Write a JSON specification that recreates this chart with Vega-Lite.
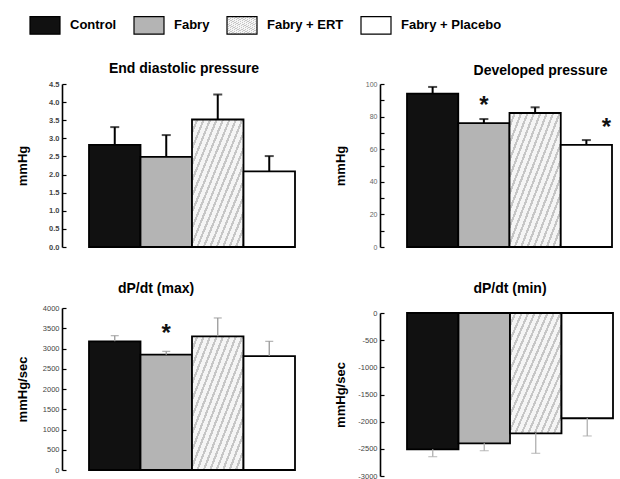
{
  "$schema": "https://vega.github.io/schema/vega-lite/v6.json",
  "background": "white",
  "padding": {"left": 16, "top": 9, "right": 2, "bottom": 0},
  "datasets": {
    "bars": [
      {"panel": "edp", "group": "Control", "mean": 2.82, "hi": 3.31, "star": null},
      {"panel": "edp", "group": "Fabry", "mean": 2.49, "hi": 3.09, "star": null},
      {"panel": "edp", "group": "Fabry + ERT", "mean": 3.52, "hi": 4.21, "star": null},
      {"panel": "edp", "group": "Fabry + Placebo", "mean": 2.09, "hi": 2.51, "star": null},
      {"panel": "dp", "group": "Control", "mean": 94.1, "hi": 98.2, "star": null},
      {"panel": "dp", "group": "Fabry", "mean": 76.0, "hi": 78.5, "star": 90.4},
      {"panel": "dp", "group": "Fabry + ERT", "mean": 82.2, "hi": 85.7, "star": null},
      {"panel": "dp", "group": "Fabry + Placebo", "mean": 62.7, "hi": 65.6, "star": 76.4},
      {"panel": "dpmax", "group": "Control", "mean": 3176, "hi": 3317, "star": null},
      {"panel": "dpmax", "group": "Fabry", "mean": 2847, "hi": 2929, "star": 3507},
      {"panel": "dpmax", "group": "Fabry + ERT", "mean": 3300, "hi": 3754, "star": null},
      {"panel": "dpmax", "group": "Fabry + Placebo", "mean": 2814, "hi": 3176, "star": null},
      {"panel": "dpmin", "group": "Control", "mean": -2509, "hi": -2644, "star": null},
      {"panel": "dpmin", "group": "Fabry", "mean": -2398, "hi": -2534, "star": null},
      {"panel": "dpmin", "group": "Fabry + ERT", "mean": -2214, "hi": -2583, "star": null},
      {"panel": "dpmin", "group": "Fabry + Placebo", "mean": -1937, "hi": -2263, "star": null}
    ]
  },
  "columns": 2,
  "spacing": {"row": 31, "column": 38},
  "concat": [
    {
      "width": 206, "height": 163,
      "title": {"text": "End diastolic pressure", "dx": -8, "offset": 4},
      "data": {"name": "bars"},
      "transform": [{"filter": "datum.panel === 'edp'"}],
      "encoding": {"x": {"field": "group", "type": "nominal", "sort": ["Control", "Fabry", "Fabry + ERT", "Fabry + Placebo"], "axis": null, "scale": {"paddingInner": 0, "paddingOuter": 0}}},
      "layer": [
        {
          "mark": {"type": "bar", "stroke": "black", "strokeWidth": 1.8},
          "encoding": {
            "y": {"field": "mean", "type": "quantitative", "scale": {"domain": [0, 4.5], "nice": false}, "axis": {"title": "mmHg", "values": [0, 0.5, 1, 1.5, 2, 2.5, 3, 3.5, 4, 4.5], "tickCount": 20, "labelOverlap": false, "format": ".1f", "labelFontWeight": "bold"}},
            "fill": {"field": "group", "type": "nominal", "scale": {"domain": ["Control", "Fabry", "Fabry + ERT", "Fabry + Placebo"], "range": ["#111111", "#b4b4b4", {"expr": "{gradient:'linear',x1:0,y1:0,x2:1,y2:1,stops:[{offset:0,color:'#f5f5f5'},{offset:0.0406,color:'#f5f5f5'},{offset:0.0406,color:'#c6c6c6'},{offset:0.0625,color:'#c6c6c6'},{offset:0.0625,color:'#f5f5f5'},{offset:0.1031,color:'#f5f5f5'},{offset:0.1031,color:'#c6c6c6'},{offset:0.125,color:'#c6c6c6'},{offset:0.125,color:'#f5f5f5'},{offset:0.1656,color:'#f5f5f5'},{offset:0.1656,color:'#c6c6c6'},{offset:0.1875,color:'#c6c6c6'},{offset:0.1875,color:'#f5f5f5'},{offset:0.2281,color:'#f5f5f5'},{offset:0.2281,color:'#c6c6c6'},{offset:0.25,color:'#c6c6c6'},{offset:0.25,color:'#f5f5f5'},{offset:0.2906,color:'#f5f5f5'},{offset:0.2906,color:'#c6c6c6'},{offset:0.3125,color:'#c6c6c6'},{offset:0.3125,color:'#f5f5f5'},{offset:0.3531,color:'#f5f5f5'},{offset:0.3531,color:'#c6c6c6'},{offset:0.375,color:'#c6c6c6'},{offset:0.375,color:'#f5f5f5'},{offset:0.4156,color:'#f5f5f5'},{offset:0.4156,color:'#c6c6c6'},{offset:0.4375,color:'#c6c6c6'},{offset:0.4375,color:'#f5f5f5'},{offset:0.4781,color:'#f5f5f5'},{offset:0.4781,color:'#c6c6c6'},{offset:0.5,color:'#c6c6c6'},{offset:0.5,color:'#f5f5f5'},{offset:0.5406,color:'#f5f5f5'},{offset:0.5406,color:'#c6c6c6'},{offset:0.5625,color:'#c6c6c6'},{offset:0.5625,color:'#f5f5f5'},{offset:0.6031,color:'#f5f5f5'},{offset:0.6031,color:'#c6c6c6'},{offset:0.625,color:'#c6c6c6'},{offset:0.625,color:'#f5f5f5'},{offset:0.6656,color:'#f5f5f5'},{offset:0.6656,color:'#c6c6c6'},{offset:0.6875,color:'#c6c6c6'},{offset:0.6875,color:'#f5f5f5'},{offset:0.7281,color:'#f5f5f5'},{offset:0.7281,color:'#c6c6c6'},{offset:0.75,color:'#c6c6c6'},{offset:0.75,color:'#f5f5f5'},{offset:0.7906,color:'#f5f5f5'},{offset:0.7906,color:'#c6c6c6'},{offset:0.8125,color:'#c6c6c6'},{offset:0.8125,color:'#f5f5f5'},{offset:0.8531,color:'#f5f5f5'},{offset:0.8531,color:'#c6c6c6'},{offset:0.875,color:'#c6c6c6'},{offset:0.875,color:'#f5f5f5'},{offset:0.9156,color:'#f5f5f5'},{offset:0.9156,color:'#c6c6c6'},{offset:0.9375,color:'#c6c6c6'},{offset:0.9375,color:'#f5f5f5'},{offset:0.9781,color:'#f5f5f5'},{offset:0.9781,color:'#c6c6c6'},{offset:1,color:'#c6c6c6'}]}"}, "#ffffff"]}, "legend": {"title": null}}
          }
        },
        {"mark": {"type": "rule", "color": "black", "strokeWidth": 2}, "encoding": {"y": {"field": "mean", "type": "quantitative"}, "y2": {"field": "hi"}}},
        {"mark": {"type": "tick", "color": "black", "thickness": 2, "size": 9}, "encoding": {"y": {"field": "hi", "type": "quantitative"}}}
      ]
    },
    {
      "width": 205, "height": 163,
      "title": {"text": "Developed pressure", "dx": 31, "offset": 2},
      "data": {"name": "bars"},
      "transform": [{"filter": "datum.panel === 'dp'"}],
      "encoding": {"x": {"field": "group", "type": "nominal", "sort": ["Control", "Fabry", "Fabry + ERT", "Fabry + Placebo"], "axis": null, "scale": {"paddingInner": 0, "paddingOuter": 0}}},
      "layer": [
        {
          "mark": {"type": "bar", "stroke": "black", "strokeWidth": 1.8},
          "encoding": {
            "y": {"field": "mean", "type": "quantitative", "scale": {"domain": [0, 100], "nice": false}, "axis": {"title": "mmHg", "values": [0, 10, 20, 30, 40, 50, 60, 70, 80, 90, 100], "tickCount": 20, "labelOverlap": false, "labelExpr": "datum.value % 20 === 0 ? datum.label : ''", "labelColor": "#666", "labelFontSize": 7}},
            "fill": {"field": "group", "type": "nominal", "legend": {"title": null}}
          }
        },
        {"mark": {"type": "rule", "color": "black", "strokeWidth": 2}, "encoding": {"y": {"field": "mean", "type": "quantitative"}, "y2": {"field": "hi"}}},
        {"mark": {"type": "tick", "color": "black", "thickness": 2, "size": 9}, "encoding": {"y": {"field": "hi", "type": "quantitative"}}},
        {"transform": [{"filter": "datum.star != null && datum.group === 'Fabry'"}], "mark": {"type": "text", "text": "*", "fontSize": 24, "fontWeight": "bold", "baseline": "middle", "dy": 6, "color": "#111"}, "encoding": {"y": {"field": "star", "type": "quantitative"}}},
        {"transform": [{"filter": "datum.star != null && datum.group === 'Fabry + Placebo'"}], "mark": {"type": "text", "text": "*", "fontSize": 24, "fontWeight": "bold", "baseline": "middle", "dy": 6, "dx": 20, "color": "#111"}, "encoding": {"y": {"field": "star", "type": "quantitative"}}}
      ]
    },
    {
      "width": 206, "height": 162,
      "title": {"text": "dP/dt (max)", "dx": -36, "offset": 8},
      "data": {"name": "bars"},
      "transform": [{"filter": "datum.panel === 'dpmax'"}],
      "encoding": {"x": {"field": "group", "type": "nominal", "sort": ["Control", "Fabry", "Fabry + ERT", "Fabry + Placebo"], "axis": null, "scale": {"paddingInner": 0, "paddingOuter": 0}}},
      "layer": [
        {
          "mark": {"type": "bar", "stroke": "black", "strokeWidth": 1.8},
          "encoding": {
            "y": {"field": "mean", "type": "quantitative", "scale": {"domain": [0, 4000], "nice": false}, "axis": {"title": "mmHg/sec", "values": [0, 500, 1000, 1500, 2000, 2500, 3000, 3500, 4000], "tickCount": 20, "labelOverlap": false, "format": "d"}},
            "fill": {"field": "group", "type": "nominal", "legend": {"title": null}}
          }
        },
        {"mark": {"type": "rule", "color": "#999999", "strokeWidth": 1.3}, "encoding": {"y": {"field": "mean", "type": "quantitative"}, "y2": {"field": "hi"}}},
        {"mark": {"type": "tick", "color": "#999999", "thickness": 1.3, "size": 8}, "encoding": {"y": {"field": "hi", "type": "quantitative"}}},
        {"transform": [{"filter": "datum.star != null"}], "mark": {"type": "text", "text": "*", "fontSize": 24, "fontWeight": "bold", "baseline": "middle", "dy": 6, "color": "#111"}, "encoding": {"y": {"field": "star", "type": "quantitative"}}}
      ]
    },
    {
      "width": 206, "height": 168,
      "title": {"text": "dP/dt (min)", "dx": 0, "offset": 12},
      "data": {"name": "bars"},
      "transform": [{"filter": "datum.panel === 'dpmin'"}],
      "encoding": {"x": {"field": "group", "type": "nominal", "sort": ["Control", "Fabry", "Fabry + ERT", "Fabry + Placebo"], "axis": null, "scale": {"paddingInner": 0, "paddingOuter": 0}}},
      "layer": [
        {
          "mark": {"type": "bar", "stroke": "black", "strokeWidth": 1.8},
          "encoding": {
            "y": {"field": "mean", "type": "quantitative", "scale": {"domain": [-3000, 0], "nice": false, "range": [168, 5]}, "axis": {"title": "mmHg/sec", "values": [-3000, -2500, -2000, -1500, -1000, -500, 0], "tickCount": 20, "labelOverlap": false, "labelExpr": "toString(datum.value)"}},
            "fill": {"field": "group", "type": "nominal", "legend": {"title": null}}
          }
        },
        {"mark": {"type": "rule", "color": "#b0b0b0", "strokeWidth": 1.3}, "encoding": {"y": {"field": "mean", "type": "quantitative"}, "y2": {"field": "hi"}}},
        {"mark": {"type": "tick", "color": "#b0b0b0", "thickness": 1.3, "size": 9}, "encoding": {"y": {"field": "hi", "type": "quantitative"}}}
      ]
    }
  ],
  "config": {
    "view": {"stroke": null},
    "font": "Liberation Sans",
    "axis": {"domainColor": "black", "domainWidth": 1.6, "tickColor": "black", "tickWidth": 1.2, "tickSize": -4, "labelFontSize": 7.5, "labelColor": "#444", "labelPadding": 7, "labelOverlap": false, "labelFlush": false, "titleFontSize": 13, "titleFontWeight": "bold", "titleColor": "black", "titlePadding": 6, "minExtent": 27, "maxExtent": 27, "grid": false, "offset": 27},
    "title": {"fontSize": 14, "fontWeight": "bold", "color": "black", "anchor": "middle"},
    "legend": {"orient": "none", "legendX": -60, "legendY": -75, "direction": "horizontal", "symbolType": "M-1,-0.587H1V0.587H-1Z", "symbolSize": 900, "symbolStrokeColor": "black", "symbolStrokeWidth": 1.2, "labelFontSize": 13, "labelFontWeight": "bold", "labelColor": "black", "labelOffset": 9, "columnPadding": 14, "padding": 0}
  }
}
